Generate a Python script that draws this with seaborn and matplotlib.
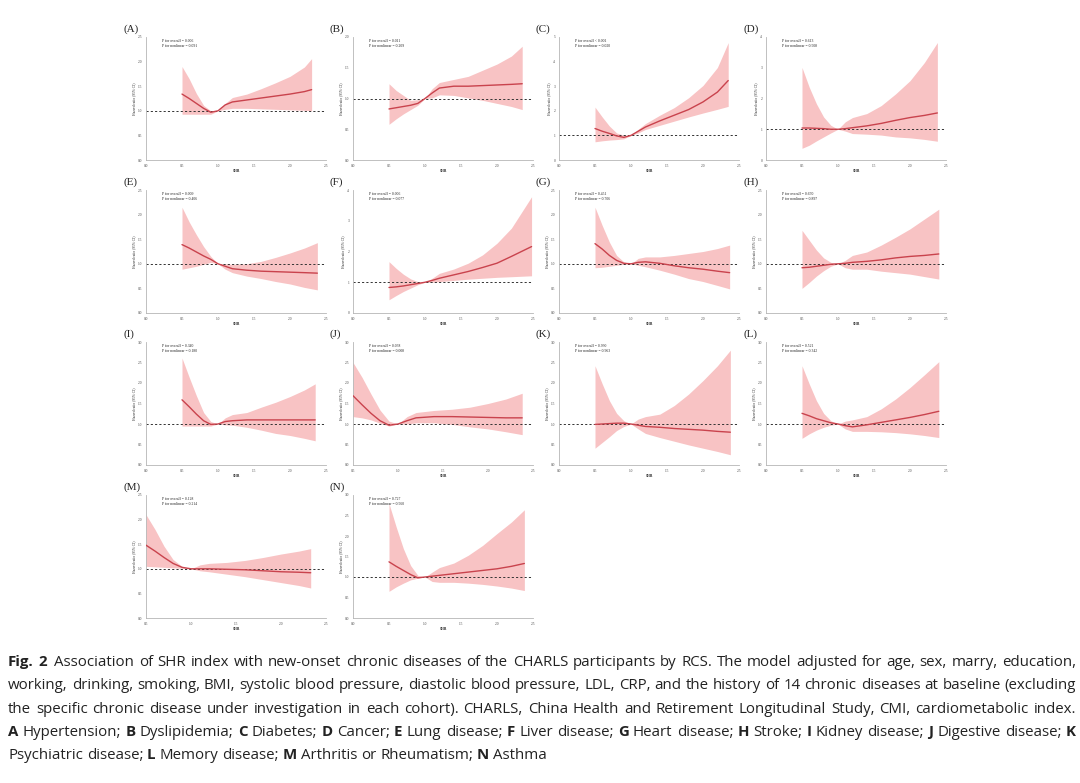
import numpy as np
import pandas as pd
import matplotlib
matplotlib.use("Agg")
import matplotlib.pyplot as plt
import seaborn as sns

sns.set_theme(style="white")
plt.rcParams['font.family'] = ['Liberation Serif', 'DejaVu Serif']

# ---------------- data ----------------
letters = list("ABCDEFGHIJKLMN")
x_base = [0.5, 0.6, 0.7, 0.8, 0.9, 1.0, 1.1, 1.2, 1.4, 1.6, 1.8, 2.0, 2.2]
x_end = [2.30, 2.35, 2.35, 2.38, 2.38, 2.48, 2.37, 2.40, 2.35, 2.38, 2.38, 2.40, 2.33, 2.38]
x_min = [0.0, 0.0, 0.0, 0.0, 0.0, 0.0, 0.0, 0.0, 0.0, 0.5, 0.0, 0.0, 0.5, 0.0]
y_max = [2.5, 2.0, 5, 4, 2.5, 4, 2.5, 2.5, 3.0, 3.0, 3.0, 3.0, 2.5, 3.0]
int_ticks = [False, False, True, True, False, True, False, False, False, False, False, False, False, False]

p_overall = ["= 0.006", "= 0.011", "< 0.001", "= 0.613", "= 0.009", "= 0.006", "= 0.451",
             "= 0.670", "= 0.340", "= 0.038", "= 0.930", "= 0.521", "= 0.128", "= 0.727"]
p_nonlinear = ["= 0.091", "= 0.209", "= 0.020", "= 0.508", "= 0.406", "= 0.077", "= 0.706",
               "= 0.897", "= 0.180", "= 0.008", "= 0.963", "= 0.342", "= 0.214", "= 0.560"]

hr_A = [1.34, 1.25, 1.15, 1.05, 0.97, 1.00, 1.12, 1.18, 1.22, 1.26, 1.30, 1.34, 1.39, 1.43]
hi_A = [1.90, 1.65, 1.35, 1.11, 1.00, 1.00, 1.15, 1.27, 1.34, 1.45, 1.57, 1.70, 1.89, 2.06]
lo_A = [0.93, 0.93, 0.93, 0.93, 0.93, 1.00, 1.03, 1.05, 1.05, 1.04, 1.03, 1.02, 1.01, 1.00]

hr_B = [0.83, 0.85, 0.87, 0.89, 0.92, 1.00, 1.09, 1.17, 1.20, 1.20, 1.21, 1.22, 1.23, 1.24]
hi_B = [1.24, 1.13, 1.05, 0.97, 0.98, 1.00, 1.16, 1.26, 1.31, 1.36, 1.46, 1.56, 1.69, 1.85]
lo_B = [0.58, 0.67, 0.75, 0.82, 0.89, 1.00, 1.01, 1.06, 1.05, 1.01, 0.97, 0.92, 0.87, 0.82]

hr_C = [1.28, 1.17, 1.08, 0.98, 0.92, 1.00, 1.17, 1.34, 1.59, 1.82, 2.05, 2.36, 2.76, 3.23]
hi_C = [2.15, 1.75, 1.38, 1.10, 1.01, 1.00, 1.25, 1.48, 1.82, 2.13, 2.53, 3.03, 3.76, 4.77]
lo_C = [0.74, 0.78, 0.81, 0.83, 0.86, 1.00, 1.10, 1.24, 1.41, 1.58, 1.75, 1.91, 2.06, 2.18]

hr_D = [1.04, 1.04, 1.03, 1.02, 1.00, 1.00, 1.02, 1.05, 1.11, 1.19, 1.29, 1.38, 1.45, 1.53]
hi_D = [3.01, 2.37, 1.83, 1.40, 1.13, 1.00, 1.24, 1.38, 1.51, 1.77, 2.15, 2.58, 3.17, 3.82]
lo_D = [0.38, 0.48, 0.62, 0.75, 0.88, 1.00, 0.94, 0.86, 0.84, 0.81, 0.75, 0.72, 0.67, 0.61]

hr_E = [1.39, 1.32, 1.24, 1.16, 1.09, 1.00, 0.95, 0.90, 0.87, 0.85, 0.84, 0.83, 0.82, 0.81]
hi_E = [2.15, 1.85, 1.59, 1.35, 1.15, 1.00, 1.00, 0.99, 1.00, 1.05, 1.13, 1.22, 1.32, 1.43]
lo_E = [0.89, 0.92, 0.95, 0.99, 1.03, 1.00, 0.89, 0.82, 0.75, 0.70, 0.64, 0.59, 0.52, 0.47]

hr_F = [0.83, 0.85, 0.88, 0.92, 0.96, 1.00, 1.06, 1.13, 1.24, 1.35, 1.48, 1.62, 1.84, 2.16]
hi_F = [1.67, 1.45, 1.26, 1.11, 1.02, 1.00, 1.13, 1.29, 1.43, 1.62, 1.89, 2.27, 2.76, 3.78]
lo_F = [0.43, 0.57, 0.70, 0.81, 0.92, 1.00, 1.00, 1.02, 1.06, 1.10, 1.13, 1.16, 1.18, 1.21]

hr_G = [1.41, 1.30, 1.17, 1.07, 1.01, 1.00, 1.03, 1.04, 1.01, 0.96, 0.92, 0.89, 0.85, 0.82]
hi_G = [2.15, 1.78, 1.44, 1.17, 1.04, 1.00, 1.11, 1.14, 1.14, 1.17, 1.21, 1.25, 1.31, 1.38]
lo_G = [0.92, 0.93, 0.95, 0.97, 0.99, 1.00, 0.97, 0.94, 0.87, 0.79, 0.70, 0.64, 0.56, 0.49]

hr_H = [0.92, 0.93, 0.95, 0.97, 0.99, 1.00, 1.01, 1.03, 1.05, 1.08, 1.12, 1.15, 1.17, 1.20]
hi_H = [1.68, 1.48, 1.28, 1.12, 1.03, 1.00, 1.07, 1.17, 1.24, 1.38, 1.54, 1.71, 1.91, 2.11]
lo_H = [0.50, 0.62, 0.75, 0.86, 0.95, 1.00, 0.92, 0.89, 0.89, 0.85, 0.82, 0.79, 0.74, 0.69]

hr_I = [1.59, 1.42, 1.24, 1.08, 0.99, 1.00, 1.06, 1.08, 1.10, 1.10, 1.10, 1.10, 1.10, 1.10]
hi_I = [2.61, 2.14, 1.69, 1.28, 1.06, 1.00, 1.15, 1.23, 1.28, 1.41, 1.53, 1.67, 1.83, 1.98]
lo_I = [0.95, 0.95, 0.95, 0.95, 0.95, 1.00, 0.98, 0.97, 0.92, 0.85, 0.77, 0.72, 0.65, 0.59]

hr_J = [1.69, 1.47, 1.26, 1.08, 0.97, 1.00, 1.08, 1.15, 1.18, 1.18, 1.17, 1.16, 1.15, 1.15]
hi_J = [2.50, 2.14, 1.73, 1.34, 1.07, 1.00, 1.18, 1.28, 1.33, 1.36, 1.41, 1.50, 1.61, 1.75]
lo_J = [1.18, 1.15, 1.10, 1.02, 0.95, 1.00, 1.00, 1.03, 1.03, 0.99, 0.93, 0.88, 0.81, 0.74]

hr_K = [0.99, 1.00, 1.01, 1.02, 1.02, 1.00, 0.97, 0.94, 0.92, 0.89, 0.87, 0.85, 0.82, 0.80]
hi_K = [2.42, 1.98, 1.57, 1.26, 1.08, 1.00, 1.12, 1.18, 1.24, 1.45, 1.73, 2.06, 2.42, 2.80]
lo_K = [0.41, 0.55, 0.69, 0.84, 0.94, 1.00, 0.88, 0.77, 0.67, 0.58, 0.49, 0.41, 0.33, 0.25]

hr_L = [1.26, 1.20, 1.13, 1.08, 1.03, 1.00, 0.96, 0.93, 0.98, 1.04, 1.10, 1.16, 1.23, 1.31]
hi_L = [2.42, 1.98, 1.57, 1.26, 1.08, 1.00, 1.07, 1.10, 1.18, 1.37, 1.61, 1.89, 2.20, 2.52]
lo_L = [0.65, 0.76, 0.85, 0.92, 0.97, 1.00, 0.88, 0.82, 0.82, 0.81, 0.79, 0.76, 0.72, 0.67]

hr_M = [1.48, 1.36, 1.23, 1.11, 1.03, 1.00, 1.00, 1.00, 0.99, 0.98, 0.96, 0.94, 0.93, 0.92]
hi_M = [2.10, 1.80, 1.46, 1.19, 1.05, 1.00, 1.08, 1.11, 1.13, 1.17, 1.23, 1.30, 1.36, 1.41]
lo_M = [1.05, 1.04, 1.03, 1.02, 1.01, 1.00, 0.96, 0.94, 0.89, 0.84, 0.78, 0.72, 0.66, 0.61]

hr_N = [1.37, 1.26, 1.16, 1.06, 0.98, 1.00, 1.02, 1.04, 1.08, 1.12, 1.16, 1.20, 1.26, 1.33]
hi_N = [2.79, 2.22, 1.69, 1.28, 1.04, 1.00, 1.12, 1.23, 1.34, 1.53, 1.77, 2.06, 2.34, 2.64]
lo_N = [0.65, 0.76, 0.85, 0.93, 0.97, 1.00, 0.89, 0.87, 0.87, 0.85, 0.82, 0.78, 0.73, 0.67]

hr_all = [hr_A, hr_B, hr_C, hr_D, hr_E, hr_F, hr_G, hr_H, hr_I, hr_J, hr_K, hr_L, hr_M, hr_N]
hi_all = [hi_A, hi_B, hi_C, hi_D, hi_E, hi_F, hi_G, hi_H, hi_I, hi_J, hi_K, hi_L, hi_M, hi_N]
lo_all = [lo_A, lo_B, lo_C, lo_D, lo_E, lo_F, lo_G, lo_H, lo_I, lo_J, lo_K, lo_L, lo_M, lo_N]

# ---------------- figure ----------------
W, H = 1080, 783
fig = plt.figure(figsize=(W / 100, H / 100), dpi=100)
fig.patch.set_facecolor('white')

LINE = '#C9434D'
FILL = '#F8C3C4'

col_left = [146, 353, 559, 766]
row_top = [37, 190, 342, 495]
AX_W, AX_H = 180, 123

for i, L in enumerate(letters):
    r, c = divmod(i, 4)
    l, t = col_left[c], row_top[r]
    ax = fig.add_axes([l / W, 1 - (t + AX_H) / H, AX_W / W, AX_H / H])
    xs = x_base + [x_end[i]]
    df = pd.DataFrame({'SHR': xs, 'HR': hr_all[i], 'lo': lo_all[i], 'hi': hi_all[i]})
    ax.fill_between(df['SHR'], df['lo'], df['hi'], color=FILL, lw=0, zorder=1)
    sns.lineplot(data=df, x='SHR', y='HR', ax=ax, color=LINE, linewidth=1.0, zorder=3)
    ax.axhline(1.0, color='#333333', lw=0.7, ls=(0, (2.2, 2.2)), zorder=2)
    ax.set_xlim(x_min[i], 2.5)
    ax.set_ylim(0, y_max[i])
    xt = np.arange(x_min[i], 2.51, 0.5)
    ax.set_xticks(xt)
    ax.set_xticklabels([f"{v:.1f}" for v in xt])
    if int_ticks[i]:
        yt = np.arange(0, y_max[i] + 0.01, 1)
        ax.set_yticks(yt)
        ax.set_yticklabels([f"{v:.0f}" for v in yt])
    else:
        yt = np.arange(0, y_max[i] + 0.01, 0.5)
        ax.set_yticks(yt)
        ax.set_yticklabels([f"{v:.1f}" for v in yt])
    ax.tick_params(labelsize=2.6, length=1.5, width=0.4, pad=1.2, colors='#444444')
    sns.despine(ax=ax)
    for s in ['left', 'bottom']:
        ax.spines[s].set_color('#b5b5b5')
        ax.spines[s].set_linewidth(0.6)
    ax.set_xlabel('SHR', fontsize=2.6, fontweight='bold', labelpad=0.8)
    ax.set_ylabel('Hazard ratio (95% CI)', fontsize=2.6, labelpad=1.5)
    ax.text(0.09, 0.985, f"P for overall {p_overall[i]}\nP for nonlinear {p_nonlinear[i]}",
            transform=ax.transAxes, fontsize=2.7, va='top', ha='left', linespacing=1.3,
            color='#222222')
    fig.text((l - 23) / W, 1 - (t - 8) / H, f"({L})", fontsize=8, ha='left', va='center',
             color='#222222')

# ---------------- caption ----------------
renderer = fig.canvas.get_renderer()
CAP_FONT = ['Open Sans', 'DejaVu Sans']
CAP_COLOR = '#222222'


def measure(s, size, bold):
    t = fig.text(0, 0, s, fontsize=size, fontweight='bold' if bold else 'normal',
                 family=CAP_FONT)
    w = t.get_window_extent(renderer).width
    t.remove()
    return w


cap_lines = [
    [("Fig. 2", True), (" Association of SHR index with new-onset chronic diseases of the CHARLS participants by RCS. The model adjusted for age, sex, marry, education,", False)],
    [("working, drinking, smoking, BMI, systolic blood pressure, diastolic blood pressure, LDL, CRP, and the history of 14 chronic diseases at baseline (excluding", False)],
    [("the specific chronic disease under investigation in each cohort). CHARLS, China Health and Retirement Longitudinal Study, CMI, cardiometabolic index.", False)],
    [("A", True), (" Hypertension;", False), (" B", True), (" Dyslipidemia;", False), (" C", True), (" Diabetes;", False),
     (" D", True), (" Cancer;", False), (" E", True), (" Lung disease;", False), (" F", True), (" Liver disease;", False),
     (" G", True), (" Heart disease;", False), (" H", True), (" Stroke;", False), (" I", True), (" Kidney disease;", False),
     (" J", True), (" Digestive disease;", False), (" K", True)],
    [("Psychiatric disease;", False), (" L", True), (" Memory disease;", False), (" M", True),
     (" Arthritis or Rheumatism;", False), (" N", True), (" Asthma", False)],
]
justify = [True, True, True, True, False]
baselines = [666, 689.3, 712.6, 736, 759.3]
X0, X1 = 8, 1076


def words_of(line):
    out = []
    for seg, b in line:
        for w in seg.split(' '):
            if w:
                out.append((w, b))
    return out


def natural_width(line, size):
    ws = words_of(line)
    sp = measure("a a", size, False) - measure("aa", size, False)
    return sum(measure(w, size, b) for w, b in ws) + sp * (len(ws) - 1)


# fit the font size to the natural width of the third caption line
cap_size = 10 * 1052 / natural_width(cap_lines[2], 10)
space = measure("a a", cap_size, False) - measure("aa", cap_size, False)

for li, line in enumerate(cap_lines):
    words = words_of(line)
    widths = [measure(w, cap_size, b) for w, b in words]
    extra = space * 0.8 if li == 0 else 0
    if justify[li]:
        gap = (X1 - X0 - sum(widths) - extra) / (len(words) - 1)
    else:
        gap = space
    x = X0
    for k, ((w, b), wd) in enumerate(zip(words, widths)):
        fig.text(x / W, 1 - baselines[li] / H, w, fontsize=cap_size,
                 fontweight='bold' if b else 'normal', family=CAP_FONT,
                 ha='left', va='baseline', color=CAP_COLOR)
        x += wd + gap
        if li == 0 and k == 1:
            x += extra

fig.savefig('out.png', dpi=100, facecolor='white')
